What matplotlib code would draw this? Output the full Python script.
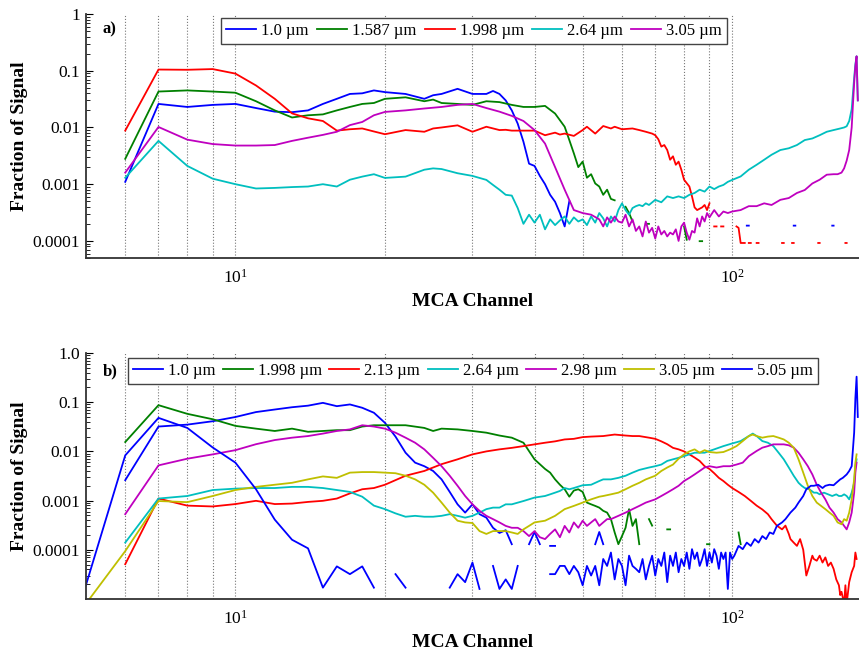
import numpy as np
import matplotlib
matplotlib.use("Agg")
import matplotlib.pyplot as plt
from matplotlib.ticker import LogLocator, NullFormatter, FixedLocator, FixedFormatter

nan = np.nan

plt.rcParams["font.family"] = ["Liberation Serif", "DejaVu Serif"]
plt.rcParams["mathtext.fontset"] = "custom"
plt.rcParams["mathtext.rm"] = "Liberation Serif"
plt.rcParams["mathtext.it"] = "Liberation Serif:italic"

# ── panel a) data: MCA channel vs fraction of signal ─────────────────────────
a_labels = ["1.0 µm", "1.587 µm", "1.998 µm", "2.64 µm", "3.05 µm"]

a_blue_ch = [6, 7, 8, 9, 10, 11, 12, 13, 14, 15, 16, 17, 18, 19, 20,
             22, 24, 25, 26, 28, 30, 32, 33, 34, 35, 36, 37, 38, 39, 40, 41, 42, 43, 44, 45, 46, 47,
             nan, 107, 108, nan, 133, 134, nan, 159, 160]
a_blue = [0.0011, 0.026, 0.023, 0.025, 0.026, 0.022, 0.019, 0.0186, 0.020, 0.026, 0.032, 0.039, 0.040, 0.045, 0.042,
          0.039, 0.032, 0.037, 0.039, 0.048, 0.039, 0.039, 0.044, 0.039, 0.030, 0.020, 0.0117, 0.0056, 0.0023, 0.0021,
          0.0014, 0.0010, 6.5e-4, 4.9e-4, 3.1e-4, 1.8e-4, 5.0e-4,
          nan, 1.86e-4, 1.86e-4, nan, 1.86e-4, 1.86e-4, nan, 1.86e-4, 1.86e-4]

a_green_ch = [6, 7, 8, 9, 10, 11, 12, 13, 14, 15, 16, 17, 18, 19, 20,
              22, 24, 25, 26, 28, 30, 32, 34, 36, 38, 40, 42, 44, 46,
              47, 48, 49, 50, 51, 52, 53, 54, 55, 56, 57, 58,
              nan, 61, 62, 63, nan, 67, 68, nan, 80, 81, nan, 86, 87]
a_green = [0.0028, 0.043, 0.045, 0.043, 0.041, 0.029, 0.020, 0.015, 0.0164, 0.017, 0.020, 0.023, 0.026, 0.027, 0.032,
           0.034, 0.029, 0.031, 0.027, 0.026, 0.025, 0.029, 0.028, 0.025, 0.023, 0.023, 0.024, 0.0176, 0.0103,
           0.0060, 0.0035, 0.0020, 0.0025, 0.0013, 0.0015, 0.00103, 9.1e-4, 6.5e-4, 8.0e-4, 5.5e-4, 5.2e-4,
           nan, 4.0e-4, 3.1e-4, 2.2e-4, nan, 2.0e-4, 2.0e-4, nan, 1.8e-4, 1.05e-4, nan, 9.9e-5, 9.9e-5]

a_red_ch = [6, 7, 8, 9, 10, 11, 12, 13, 14, 15, 16, 17, 18, 19, 20,
            22, 24, 25, 26, 28, 30, 32, 34, 35, 36, 38, 40, 42, 44, 45, 46, 48, 50, 51, 53, 55, 57, 58, 60, 63, 65, 67, 69,
            70, 71, 72, 73, 74, 75, 76, 77, 78, 79, 80,
            82, 83, 84, 85, 87, 88, 89, 90,
            nan, 92, 93, nan, 95, 96, nan, 102, 103, 104, 105, 106, nan, 108, 109, nan, 112, 113,
            nan, 126, 127, nan, 132, 133, nan, 149, 150, nan, 169, 170]
a_red = [8.8e-3, 0.105, 0.104, 0.107, 0.089, 0.055, 0.032, 0.0177, 0.0145, 0.013, 0.0088, 0.0093, 0.0096, 0.0085, 0.0076,
         0.0090, 0.0084, 0.0096, 0.0100, 0.0109, 0.0084, 0.0103, 0.0090, 0.0091, 0.0088, 0.0088, 0.0088, 0.0073, 0.0081,
         0.0075, 0.0078, 0.0071, 0.0090, 0.0103, 0.0078, 0.0106, 0.0096, 0.0103, 0.0093, 0.0096, 0.0090, 0.0084, 0.0078,
         0.0073, 0.0062, 0.0046, 0.0049, 0.0040, 0.0027, 0.0031, 0.0022, 0.0025, 0.0018, 0.0012,
         9.1e-4, 6.1e-4, 3.9e-4, 3.5e-4, 3.9e-4, 4.3e-4, 3.5e-4, 4.6e-4,
         nan, 1.8e-4, 1.8e-4, nan, 1.8e-4, 1.8e-4, nan, 1.8e-4, 1.7e-4, 9.2e-5, 9.2e-5, 9.2e-5, nan, 9.2e-5, 9.2e-5,
         nan, 9.2e-5, 9.2e-5, nan, 9.2e-5, 9.2e-5, nan, 9.2e-5, 9.2e-5, nan, 9.2e-5, 9.2e-5, nan, 9.2e-5, 9.2e-5]

a_cyan_ch = [6, 7, 8, 9, 10, 11, 12, 13, 14, 15, 16, 17, 18, 19, 20,
             22, 24, 25, 26, 28, 30, 32,
             33, 34, 35, 36, 37, 38, 39, 40, 41, 42, 43, 44, 45, 46, 47, 48, 49, 50, 51, 52, 53, 54,
             55, 56, 57, 58, 59, 60, 61, 62, 63, 64, 65, 66, 67, 68,
             70, 72, 74, 76, 78, 80, 82, 84, 86, 88, 90, 92, 94, 96, 98, 100,
             104, 108, 112, 116, 120, 125, 130, 135, 140, 145, 150, 155, 160, 165, 168, 170, 172, 174, 176, 177, 178, 179]
a_cyan = [1.3e-3, 5.8e-3, 2.1e-3, 1.25e-3, 1.0e-3, 8.4e-4, 8.6e-4, 8.9e-4, 9.1e-4, 1.0e-3, 9.1e-4, 1.2e-3, 1.36e-3, 1.5e-3, 1.29e-3,
          1.36e-3, 1.8e-3, 1.9e-3, 1.85e-3, 1.56e-3, 1.4e-3, 1.19e-3,
          9.7e-4, 8.0e-4, 6.5e-4, 6.3e-4, 3.8e-4, 2.0e-4, 2.9e-4, 2.1e-4, 2.9e-4, 1.6e-4, 2.4e-4, 1.9e-4, 2.3e-4, 2.7e-4,
          2.0e-4, 2.6e-4, 2.2e-4, 2.4e-4, 1.9e-4, 2.7e-4, 2.1e-4, 3.1e-4,
          2.5e-4, 1.8e-4, 2.7e-4, 2.2e-4, 3.5e-4, 4.6e-4, 3.5e-4, 2.9e-4, 3.8e-4, 4.1e-4, 4.3e-4, 4.1e-4, 4.6e-4, 4.3e-4,
          5.3e-4, 4.8e-4, 6.1e-4, 5.7e-4, 6.1e-4, 5.7e-4, 6.5e-4, 7.0e-4, 8.0e-4, 7.4e-4, 9.1e-4, 8.2e-4, 9.1e-4, 9.7e-4,
          1.1e-3, 1.19e-3,
          1.37e-3, 1.8e-3, 2.2e-3, 2.7e-3, 3.3e-3, 4.0e-3, 4.3e-3, 4.9e-3, 6.0e-3, 6.4e-3, 7.3e-3, 8.4e-3, 9.0e-3, 9.6e-3,
          1.0e-2, 1.05e-2, 1.3e-2, 2.1e-2, 7.5e-2, 0.13, 0.18, 0.03]

a_mag_ch = [6, 7, 8, 9, 10, 11, 12, 13, 14, 15, 16, 17, 18, 19, 20,
            22, 24, 26, 28, 30, 32, 34, 36, 38, 40, 42, 44, 46, 48, 50, 52, 54,
            55, 56, 57, 58, 59, 60, 61, 62, 63, 64, 65, 66, 67, 68, 69, 70, 71, 72,
            73, 74, 75, 76, 77, 78, 79, 80, 81, 82, 83, 84, 85, 86, 87, 88, 89, 90,
            92, 94, 96, 98, 100, 104, 108, 112, 116, 120, 125, 130, 135, 140, 145, 150, 155, 160, 163, 166, 168, 170,
            172, 174, 175, 176, 177, 178, 179]
a_mag = [1.6e-3, 1.02e-2, 6.1e-3, 5.1e-3, 4.8e-3, 4.8e-3, 4.9e-3, 5.8e-3, 6.6e-3, 7.4e-3, 8.4e-3, 1.1e-2, 1.25e-2, 1.64e-2, 1.88e-2,
         2.0e-2, 2.16e-2, 2.3e-2, 2.5e-2, 2.6e-2, 2.2e-2, 1.9e-2, 1.6e-2, 1.3e-2, 9.0e-3, 5.2e-3, 2.0e-3, 8.0e-4, 3.5e-4,
         3.1e-4, 2.9e-4, 2.4e-4,
         1.8e-4, 2.6e-4, 2.1e-4, 2.7e-4, 2.2e-4, 2.1e-4, 2.9e-4, 1.8e-4, 2.4e-4, 1.5e-4, 1.8e-4, 1.2e-4, 2.2e-4, 1.4e-4,
         1.7e-4, 1.1e-4, 1.8e-4, 1.3e-4,
         1.5e-4, 1.2e-4, 1.4e-4, 1.3e-4, 1.6e-4, 1.0e-4, 1.8e-4, 2.1e-4, 1.4e-4, 1.05e-4, 1.5e-4, 1.4e-4, 2.5e-4, 1.8e-4,
         2.7e-4, 2.2e-4, 3.1e-4, 2.6e-4,
         3.5e-4, 2.7e-4, 3.3e-4, 3.1e-4, 3.3e-4, 3.5e-4, 4.1e-4, 4.1e-4, 4.6e-4, 4.3e-4, 5.3e-4, 5.7e-4, 7.0e-4, 7.9e-4,
         1.03e-3, 1.2e-3, 1.47e-3, 1.5e-3, 1.5e-3, 1.6e-3, 1.9e-3, 2.6e-3,
         4.0e-3, 1.0e-2, 2.5e-2, 6.0e-2, 0.12, 0.18, 0.03]

# ── panel b) data ─────────────────────────────────────────────────────────────
b_labels = ["1.0 µm", "1.998 µm", "2.13 µm", "2.64 µm", "2.98 µm", "3.05 µm", "5.05 µm"]

b_blue_ch = [6, 7, 8, 9, 10, 11, 12, 13, 14, 15, 16, 17, 18, 19, 20, 21, 22, 23, 24, 25, 26, 27, 28, 29, 30,
             31, 32, 33, 34, 35, 36, nan, 39, 40, 41, nan, 43, 44, nan, 53, 54, 55]
b_blue = [0.0026, 0.032, 0.035, 0.041, 0.050, 0.063, 0.071, 0.079, 0.085, 0.097, 0.083, 0.090, 0.077, 0.061, 0.038,
          0.020, 0.0094, 0.0059, 0.0050, 0.0040, 0.0027, 0.0015, 8.4e-4, 5.7e-4, 8.4e-4,
          5.3e-4, 4.5e-4, 2.8e-4, 2.2e-4, 2.5e-4, 1.3e-4, nan, 1.3e-4, 2.3e-4, 1.3e-4, nan, 1.2e-4, 1.2e-4,
          nan, 1.3e-4, 2.3e-4, 1.3e-4]

b_green_ch = [6, 7, 8, 9, 10, 11, 12, 13, 14, 15, 16, 17, 18, 19, 20,
              22, 24, 25, 26, 28, 30, 32, 34, 36, 38, 40,
              42, 43, 44, 45, 46, 47, 48, 49, 50, 51, 52, 53, 54, 55, 56, 57, 58, 59, 60, 61, 62, 63, 64, 65,
              nan, 68, 69, nan, 74, 75, nan, 89, 90, nan, 103, 104]
b_green = [0.0155, 0.087, 0.058, 0.045, 0.033, 0.029, 0.026, 0.029, 0.025, 0.026, 0.027, 0.027, 0.032, 0.034, 0.034,
           0.034, 0.030, 0.026, 0.029, 0.028, 0.026, 0.024, 0.021, 0.019, 0.015, 0.0069,
           0.0044, 0.0037, 0.0027, 0.0021, 0.0017, 0.0012, 0.0016, 0.0017, 0.0015, 9.1e-4, 8.4e-4, 7.8e-4, 7.2e-4,
           6.2e-4, 5.7e-4, 4.2e-4, 2.25e-4, 1.3e-4, 1.9e-4, 2.8e-4, 6.7e-4, 3.06e-4, 4.2e-4, 1.3e-4,
           nan, 4.2e-4, 3.1e-4, nan, 2.6e-4, 2.6e-4, nan, 1.3e-4, 1.3e-4, nan, 2.25e-4, 1.3e-4]

b_red_ch = [6, 7, 8, 9, 10, 11, 12, 13, 14, 15, 16, 17, 18, 19, 20, 22, 24, 26, 28, 30, 32, 34, 36, 38, 40,
            42, 44, 46, 48, 50, 52, 55, 58, 61, 63, 65, 68, 70, 72, 74, 76, 78, 80, 82, 84, 86, 88, 90, 92, 94,
            96, 98, 100, 103, 106, 109, 112, 115, 118, 120, 123, 126, 128, 130, 131, 133, 135, 137, 139, 141,
            143, 145, 146, 148, 150, 152, 154, 156, 158, 160, 162, 164, 165, 166, 168, 169, 170, 172, 174, 176, 177, 178]
b_red = [5.1e-5, 1.1e-3, 7.9e-4, 7.6e-4, 8.5e-4, 9.9e-4, 8.5e-4, 8.7e-4, 9.4e-4, 9.9e-4, 1.1e-3, 1.4e-3, 1.7e-3, 1.8e-3,
         2.1e-3, 3.2e-3, 4.0e-3, 5.5e-3, 6.9e-3, 8.7e-3, 1.0e-2, 1.1e-2, 1.18e-2, 1.28e-2, 1.39e-2,
         1.5e-2, 1.6e-2, 1.75e-2, 1.8e-2, 1.95e-2, 2.0e-2, 2.05e-2, 2.2e-2, 2.1e-2, 2.05e-2, 2.05e-2, 1.9e-2, 1.8e-2,
         1.6e-2, 1.4e-2, 1.18e-2, 1.1e-2, 1.0e-2, 8.7e-3, 7.5e-3, 6.4e-3, 5.0e-3, 4.4e-3, 3.6e-3, 2.9e-3,
         2.5e-3, 2.1e-3, 1.8e-3, 1.5e-3, 1.24e-3, 9.9e-4, 7.9e-4, 6.6e-4, 5.3e-4, 4.2e-4, 3.1e-4, 2.6e-4, 3.1e-4,
         2.1e-4, 1.65e-4, 1.4e-4, 1.2e-4, 1.65e-4, 1.0e-4, 3.0e-5,
         4.7e-5, 7.6e-5, 6.5e-5, 6.0e-5, 7.6e-5, 5.5e-5, 7.0e-5, 4.7e-5, 5.5e-5, 4.1e-5, 2.5e-5, 1.9e-5, 1.2e-5,
         1.4e-5, 8e-6, 1.9e-5, 8e-6, 2.2e-5, 3.5e-5, 4.7e-5, 8.8e-5, 6.5e-5]

b_cyan_ch = [6, 7, 8, 9, 10, 11, 12, 13, 14, 15, 16, 17, 18, 19, 20, 21, 22, 23, 24, 25, 26, 27, 28, 29, 30,
             31, 32, 33, 34, 35, 36, 38, 40, 42, 43, 44, 45, 46, 47, 48, 50, 52, 54, 55,
             57, 59, 61, 63, 65, 68, 70, 72, 74, 76, 78, 80, 82, 84, 88, 90, 92, 96, 100, 104, 108, 110, 112, 115,
             118, 121, 124, 127, 130, 133, 136, 138, 140, 143, 146, 148, 150, 153, 156, 159, 162, 164, 166, 168,
             170, 172, 174, 176, 177, 178]
b_cyan = [1.4e-4, 1.1e-3, 1.24e-3, 1.64e-3, 1.75e-3, 1.8e-3, 1.8e-3, 1.9e-3, 1.9e-3, 1.8e-3, 1.64e-3, 1.5e-3, 1.2e-3,
          7.9e-4, 6.7e-4, 5.5e-4, 4.7e-4, 4.9e-4, 4.7e-4, 4.7e-4, 4.9e-4, 5.3e-4, 4.9e-4, 4.5e-4, 4.9e-4,
          5.7e-4, 6.7e-4, 7.2e-4, 7.2e-4, 8.4e-4, 8.4e-4, 9.8e-4, 1.15e-3, 1.24e-3, 1.34e-3, 1.45e-3, 1.57e-3, 1.8e-3,
          1.7e-3, 1.8e-3, 2.05e-3, 2.1e-3, 2.5e-3, 2.7e-3,
          2.7e-3, 2.9e-3, 3.2e-3, 3.7e-3, 4.2e-3, 4.7e-3, 5.0e-3, 5.4e-3, 6.4e-3, 6.9e-3, 7.4e-3, 8.0e-3, 8.7e-3,
          9.4e-3, 9.4e-3, 1.02e-2, 1.1e-2, 1.28e-2, 1.45e-2, 1.62e-2, 2.05e-2, 2.3e-2, 2.05e-2, 1.62e-2,
          1.5e-2, 1.28e-2, 9.4e-3, 6.9e-3, 4.7e-3, 3.2e-3, 2.3e-3, 2.0e-3, 1.8e-3, 1.7e-3, 1.45e-3, 1.45e-3, 1.34e-3,
          1.45e-3, 1.34e-3, 1.24e-3, 1.34e-3, 1.24e-3, 1.24e-3, 1.34e-3,
          1.24e-3, 1.06e-3, 1.45e-3, 2.3e-3, 5.0e-3, 6.9e-3]

b_mag_ch = [6, 7, 8, 9, 10, 11, 12, 13, 14, 15, 16, 17, 18, 19, 20, 21, 22, 23, 24, 25, 26, 27, 28, 29, 30,
            31, 32, 33, 34, 35, 36, 37, 38, 39, 40, 41, 42, 43, 44, 45, 46, 47, 48, 49, 50, 51, 52, 53, 54, 55, 56, 57,
            59, 61, 63, 65, 67, 70, 72, 74, 76, 78, 80, 82, 84, 86, 88, 90, 93, 96, 99, 102, 105, 108,
            112, 115, 118, 121, 124, 127, 130, 133, 136, 139, 142, 145, 148, 151, 154, 157, 160, 163, 166,
            168, 170, 172, 174, 176, 177, 178]
b_mag = [5.3e-4, 5.2e-3, 7.1e-3, 8.7e-3, 1.06e-2, 1.4e-2, 1.7e-2, 1.9e-2, 2.05e-2, 2.3e-2, 2.6e-2, 2.8e-2, 3.4e-2,
         3.2e-2, 2.9e-2, 2.4e-2, 1.9e-2, 1.5e-2, 1.1e-2, 7.4e-3, 5.0e-3, 3.2e-3, 2.0e-3, 1.24e-3, 8.4e-4,
         6.2e-4, 4.9e-4, 4.2e-4, 3.6e-4, 3.06e-4, 2.8e-4, 2.8e-4, 2.4e-4, 1.9e-4, 2.4e-4, 1.8e-4, 1.65e-4, 2.1e-4,
         2.6e-4, 1.8e-4, 3.06e-4, 2.25e-4, 3.6e-4, 2.8e-4, 3.9e-4, 3.06e-4, 3.6e-4, 4.2e-4, 3.06e-4, 3.6e-4, 4.2e-4, 4.2e-4,
         4.9e-4, 5.7e-4, 6.7e-4, 7.8e-4, 9.1e-4, 1.06e-3, 1.24e-3, 1.45e-3, 1.7e-3, 2.0e-3, 2.5e-3, 2.9e-3, 3.4e-3,
         4.0e-3, 4.7e-3, 5.0e-3, 4.7e-3, 5.0e-3, 5.0e-3, 5.4e-3, 5.9e-3, 8.0e-3,
         1.02e-2, 1.19e-2, 1.28e-2, 1.39e-2, 1.39e-2, 1.39e-2, 1.33e-2, 1.19e-2, 9.4e-3, 6.9e-3, 5.0e-3, 3.4e-3,
         2.1e-3, 1.45e-3, 1.06e-3, 7.2e-4, 5.7e-4, 4.2e-4, 3.6e-4,
         3.06e-4, 2.6e-4, 3.6e-4, 5.7e-4, 1.45e-3, 3.7e-3, 5.9e-3]

b_yel_ch = [5, 6, 7, 8, 9, 10, 11, 12, 13, 14, 15, 16, 17, 18, 19, 20, 21, 22, 23, 24, 25, 26, 27, 28, 29, 30,
            31, 32, 33, 34, 35, 36, 37, 38, 39, 40, 42, 44, 46, 48, 50, 52, 54, 55,
            57, 59, 61, 63, 65, 67, 70, 72, 74, 76, 78, 80, 82, 84, 86, 88, 90,
            93, 96, 99, 102, 105, 108, 110, 112, 115, 118, 121, 124, 127, 130, 133, 136, 139, 142, 145, 148,
            151, 154, 157, 160, 163, 166, 168, 170, 172, 174, 176, 177, 178]
b_yel = [8e-6, 9.4e-5, 9.8e-4, 9.3e-4, 1.24e-3, 1.64e-3, 1.9e-3, 2.1e-3, 2.3e-3, 2.7e-3, 3.1e-3, 2.9e-3, 3.7e-3,
         3.8e-3, 3.8e-3, 3.7e-3, 3.6e-3, 3.2e-3, 2.7e-3, 2.1e-3, 1.45e-3, 9.1e-4, 5.7e-4, 3.9e-4, 3.6e-4, 3.5e-4,
         2.4e-4, 2.1e-4, 2.4e-4, 2.4e-4, 2.4e-4, 2.25e-4, 2.1e-4, 2.6e-4, 3.06e-4, 3.6e-4,
         3.9e-4, 4.9e-4, 6.7e-4, 7.8e-4, 9.1e-4, 1.06e-3, 1.2e-3, 1.24e-3,
         1.34e-3, 1.45e-3, 1.7e-3, 2.0e-3, 2.3e-3, 2.7e-3, 3.2e-3, 4.0e-3, 4.7e-3, 5.4e-3, 7.1e-3, 8.7e-3, 1.0e-2,
         1.1e-2, 9.4e-3, 1.06e-2, 9.7e-3,
         9.4e-3, 9.7e-3, 1.1e-2, 1.28e-2, 1.62e-2, 2.05e-2, 2.2e-2, 2.05e-2, 1.9e-2, 2.0e-2, 2.05e-2, 1.9e-2,
         1.75e-2, 1.5e-2, 1.19e-2, 6.9e-3, 3.7e-3, 2.0e-3, 1.24e-3, 9.1e-4,
         7.8e-4, 6.7e-4, 5.7e-4, 4.9e-4, 3.6e-4, 3.3e-4, 4.2e-4, 3.9e-4, 5.7e-4, 1.06e-3, 2.7e-3, 5.9e-3, 8.7e-3]

b_blue5_ch = [5, 6, 7, 8, 9, 10, 11, 12, 13, 14, 15, 16, 17, 18, 19,
              nan, 21, 22, nan, 27, 28, 29, 30, 31, nan, 33, 34, 35, 36, 37, nan,
              43, 44, 45, 46, 47, 48, 49, 50, 51, 52, 53, 54, 55, 56, 57, 58, 59, 60, 61, 62,
              63, 64, 65, 66, 67, 68, 69, 70, 71, 72, 73, 74, 75, 76, 77, 78, 79, 80, 81, 82,
              83, 84, 85, 86, 87, 88, 89, 90, 91, 92, 93, 94, 95, 96, 97, 98, 99, 100, 101,
              103, 105, 107, 109, 111, 113, 115, 117, 119, 121, 123, 126, 128, 131, 134, 136, 139, 141,
              144, 146, 149, 152, 154, 157, 160, 162, 165, 167, 170, 172, 174, 175, 176, 177, 178, 179]
b_blue5 = [1.9e-5, 8.3e-3, 4.8e-2, 3.0e-2, 1.2e-2, 5.9e-3, 1.7e-3, 4.1e-4, 1.6e-4, 1.07e-4, 1.7e-5, 4.6e-5, 3.2e-5,
           4.6e-5, 1.7e-5,
           nan, 3.2e-5, 1.7e-5, nan, 1.7e-5, 3.2e-5, 2.2e-5, 5.5e-5, 1.6e-5, nan, 4.7e-5, 1.6e-5, 2.5e-5, 1.6e-5,
           4.7e-5, nan,
           3.2e-5, 3.2e-5, 4.7e-5, 4.7e-5, 3.2e-5, 4.7e-5, 3.5e-5, 1.9e-5, 4.7e-5, 3.0e-5, 4.7e-5, 1.9e-5, 6.5e-5,
           4.7e-5, 8.8e-5, 2.5e-5, 6.5e-5, 4.7e-5, 1.9e-5, 7.6e-5,
           4.7e-5, 4.1e-5, 3.5e-5, 6.5e-5, 2.5e-5, 4.7e-5, 7.6e-5, 3.0e-5, 6.5e-5, 4.7e-5, 8.8e-5, 2.2e-5, 7.6e-5,
           4.7e-5, 8.8e-5, 3.5e-5, 6.5e-5, 4.7e-5, 8.8e-5, 4.1e-5,
           1.03e-4, 6.5e-5, 8.8e-5, 4.7e-5, 6.5e-5, 1.03e-4, 4.7e-5, 8.8e-5, 5.5e-5, 1.03e-4, 7.6e-5, 4.1e-5, 8.8e-5,
           6.5e-5, 8.8e-5, 1.6e-5, 8.8e-5, 6.5e-5, 7.6e-5,
           1.2e-4, 1.03e-4, 1.4e-4, 1.2e-4, 1.65e-4, 1.4e-4, 1.9e-4, 1.65e-4, 2.25e-4, 2.1e-4, 3.06e-4, 3.6e-4, 4.2e-4,
           5.7e-4, 7.2e-4, 9.1e-4, 1.24e-3, 1.7e-3,
           2.0e-3, 2.0e-3, 2.1e-3, 1.8e-3, 2.0e-3, 2.1e-3, 2.05e-3, 2.3e-3, 2.7e-3, 2.9e-3, 3.4e-3, 4.0e-3, 5.0e-3,
           1.1e-2, 2.4e-2, 0.12, 0.33, 0.05]

BLUE, GREEN, RED = "#0000FF", "#008000", "#FF0000"
CYAN, MAGENTA, YELLOW = "#00BFBF", "#BF00BF", "#BFBF00"

a_series = [(a_blue_ch, a_blue, BLUE), (a_green_ch, a_green, GREEN), (a_red_ch, a_red, RED),
            (a_cyan_ch, a_cyan, CYAN), (a_mag_ch, a_mag, MAGENTA)]
b_series = [(b_blue_ch, b_blue, BLUE), (b_green_ch, b_green, GREEN), (b_red_ch, b_red, RED),
            (b_cyan_ch, b_cyan, CYAN), (b_mag_ch, b_mag, MAGENTA), (b_yel_ch, b_yel, YELLOW),
            (b_blue5_ch, b_blue5, BLUE)]


def style_axes(ax, ylim, yticks, ylabels, tag, tag_y):
    ax.set_xscale("log")
    ax.set_yscale("log")
    ax.set_xlim(5, 180)
    ax.set_ylim(*ylim)
    ax.spines["top"].set_visible(False)
    ax.spines["right"].set_visible(False)
    for s in ("left", "bottom"):
        ax.spines[s].set_color("#333333")
        ax.spines[s].set_linewidth(1.3)
    ax.xaxis.set_major_locator(FixedLocator([10, 100]))
    ax.xaxis.set_major_formatter(FixedFormatter([r"$10^{1}$", r"$10^{2}$"]))
    ax.xaxis.set_minor_locator(FixedLocator([6, 7, 8, 9, 20, 30, 40, 50, 60, 70, 80, 90]))
    ax.xaxis.set_minor_formatter(NullFormatter())
    ax.yaxis.set_major_locator(FixedLocator(yticks))
    ax.yaxis.set_major_formatter(FixedFormatter(ylabels))
    ax.yaxis.set_minor_locator(LogLocator(base=10, subs=np.arange(2, 10)))
    ax.yaxis.set_minor_formatter(NullFormatter())
    ax.tick_params(axis="y", which="major", direction="in", length=5, width=0.8, labelsize=12.5, pad=4)
    ax.tick_params(axis="y", which="minor", direction="in", length=3, width=0.6)
    ax.tick_params(axis="x", which="both", direction="in", length=0, labelsize=12.5, pad=8)
    ax.grid(True, which="both", axis="x", linestyle=":", color="#777777", linewidth=0.8)
    ax.set_xlabel("MCA Channel", fontsize=14, fontweight="bold", labelpad=4)
    ax.set_ylabel("Fraction of Signal", fontsize=14, fontweight="bold")
    ax.yaxis.set_label_coords(-0.075, 0.5)
    ax.text(0.022, tag_y, tag, transform=ax.transAxes, fontsize=12, fontweight="bold", va="center", ha="left")


fig = plt.figure(figsize=(8.59, 6.52), dpi=100)

ax_a = fig.add_axes([0.100, 0.6043, 0.900, 0.3742])
for (ch, val, col), lab in zip(a_series, a_labels):
    ax_a.plot(ch, val, color=col, linewidth=1.3, label=lab)
style_axes(ax_a, (5e-5, 1), [1e-4, 1e-3, 1e-2, 1e-1, 1], ["0.0001", "0.001", "0.01", "0.1", "1"], "a)", 0.935)
leg = ax_a.legend(loc="upper left", bbox_to_anchor=(0.175, 0.985), ncol=5, fontsize=12, frameon=True,
                  fancybox=False, edgecolor="#444444", framealpha=1, borderpad=0.3, handlelength=1.8,
                  handletextpad=0.3, columnspacing=0.5, borderaxespad=0)
leg.get_frame().set_linewidth(1.0)

ax_b = fig.add_axes([0.100, 0.0813, 0.900, 0.3773])
for (ch, val, col), lab in zip(b_series, b_labels):
    ax_b.plot(ch, val, color=col, linewidth=1.3, label=lab)
style_axes(ax_b, (1e-5, 1), [1e-4, 1e-3, 1e-2, 1e-1, 1], ["0.0001", "0.001", "0.01", "0.1", "1.0"], "b)", 0.925)
leg = ax_b.legend(loc="upper left", bbox_to_anchor=(0.054, 0.98), ncol=7, fontsize=12, frameon=True,
                  fancybox=False, edgecolor="#444444", framealpha=1, borderpad=0.3, handlelength=1.8,
                  handletextpad=0.3, columnspacing=0.45, borderaxespad=0)
leg.get_frame().set_linewidth(1.0)

fig.savefig("out.png", dpi=100)
